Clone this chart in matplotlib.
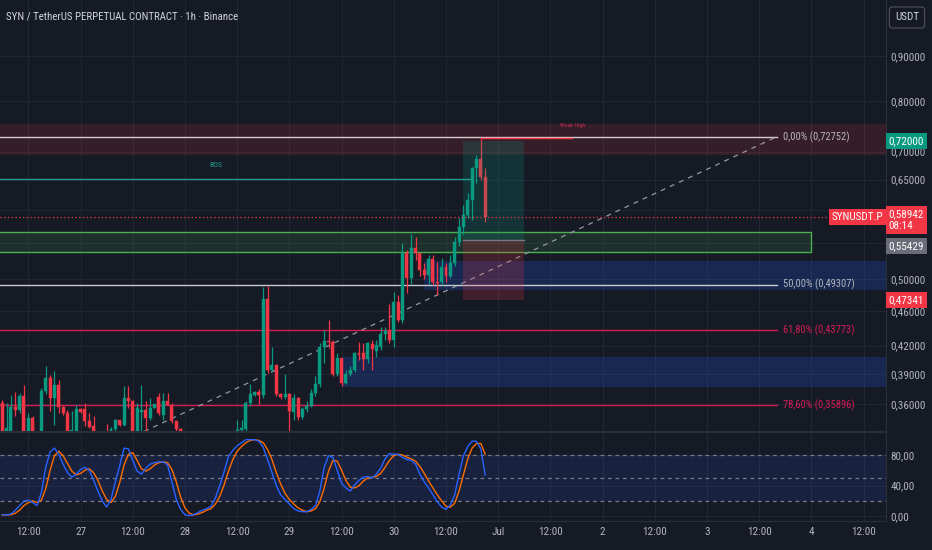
import matplotlib
matplotlib.use('Agg')
import matplotlib.pyplot as plt
from matplotlib import font_manager as fm
from matplotlib.patches import Rectangle
from matplotlib.ticker import FixedLocator, NullLocator, FuncFormatter
from matplotlib.transforms import blended_transform_factory

# ---------------- data ----------------
hours = list(range(6, 118))   # hours since 26 Jun 00:00

opens = [0.361, 0.335, 0.330, 0.3574, 0.3549, 0.368, 0.333, 0.3473, 0.330, 0.333,
         0.373, 0.3855, 0.3658, 0.3787, 0.3574, 0.3518, 0.334, 0.333, 0.3555, 0.3555,
         0.344, 0.3395, 0.334, 0.332, 0.335, 0.333, 0.3377, 0.3449, 0.341, 0.3658,
         0.3626, 0.334, 0.3524, 0.3542, 0.3473, 0.3564, 0.3673, 0.3497, 0.3635, 0.3595,
         0.344, 0.3377, 0.335, 0.322, 0.310, 0.314, 0.300, 0.308, 0.315, 0.312,
         0.322, 0.326, 0.330, 0.328, 0.334, 0.3363, 0.3372, 0.3616, 0.3686, 0.3718,
         0.3686, 0.4748, 0.3944, 0.3995, 0.3696, 0.3665, 0.3696, 0.3524, 0.3655, 0.348,
         0.3555, 0.3585, 0.3712, 0.3794, 0.418, 0.4252, 0.4241, 0.3894, 0.4065, 0.381,
         0.3894, 0.3934, 0.4117, 0.4117, 0.4054, 0.4217, 0.414, 0.4188, 0.433, 0.4363,
         0.4268, 0.4716, 0.449, 0.5365, 0.502, 0.543, 0.5357, 0.512, 0.5055, 0.5275,
         0.4966, 0.4966, 0.517, 0.5045, 0.522, 0.551, 0.5735, 0.593, 0.616, 0.6695, 0.687, 0.655]

highs = [0.364, 0.361, 0.369, 0.372, 0.3705, 0.3787, 0.3518, 0.3488, 0.335, 0.376,
         0.398, 0.389, 0.393, 0.3837, 0.3585, 0.3549, 0.3533, 0.3595, 0.3565, 0.361,
         0.3518, 0.3488, 0.3355, 0.335, 0.3419, 0.339, 0.346, 0.3449, 0.3777, 0.3777,
         0.364, 0.361, 0.3787, 0.3626, 0.3658, 0.3604, 0.371, 0.371, 0.3705, 0.361,
         0.344, 0.338, 0.3355, 0.326, 0.318, 0.320, 0.312, 0.318, 0.322, 0.325,
         0.330, 0.333, 0.335, 0.335, 0.3453, 0.3453, 0.3632, 0.3794, 0.373, 0.3745,
         0.490, 0.4917, 0.418, 0.4005, 0.371, 0.3894, 0.3712, 0.3696, 0.3665, 0.357,
         0.3632, 0.3745, 0.3877, 0.4224, 0.4376, 0.4498, 0.426, 0.4117, 0.4065, 0.3944,
         0.3978, 0.4134, 0.4241, 0.4224, 0.4241, 0.426, 0.426, 0.4412, 0.4412, 0.4686,
         0.484, 0.480, 0.550, 0.540, 0.5632, 0.559, 0.5365, 0.522, 0.5336, 0.5336,
         0.524, 0.529, 0.522, 0.5336, 0.559, 0.587, 0.608, 0.628, 0.672, 0.694, 0.7248, 0.6695]

lows = [0.320, 0.330, 0.325, 0.3488, 0.352, 0.328, 0.330, 0.330, 0.326, 0.330,
        0.370, 0.3533, 0.341, 0.3518, 0.350, 0.330, 0.330, 0.330, 0.352, 0.3395,
        0.338, 0.333, 0.328, 0.326, 0.330, 0.330, 0.335, 0.340, 0.340, 0.3564,
        0.330, 0.330, 0.333, 0.333, 0.3453, 0.356, 0.3503, 0.3453, 0.359, 0.3425,
        0.335, 0.333, 0.318, 0.305, 0.300, 0.296, 0.290, 0.302, 0.309, 0.308,
        0.316, 0.320, 0.324, 0.322, 0.330, 0.333, 0.335, 0.3585, 0.3675, 0.360,
        0.366, 0.391, 0.3927, 0.368, 0.365, 0.3648, 0.335, 0.3453, 0.3453, 0.346,
        0.3524, 0.357, 0.368, 0.377, 0.4012, 0.417, 0.3877, 0.388, 0.3777, 0.3794,
        0.3877, 0.392, 0.4046, 0.3944, 0.4012, 0.394, 0.408, 0.415, 0.426, 0.4224,
        0.4188, 0.447, 0.4452, 0.482, 0.4945, 0.526, 0.504, 0.501, 0.4945, 0.4925,
        0.480, 0.4925, 0.4966, 0.502, 0.518, 0.546, 0.562, 0.588, 0.5845, 0.645, 0.650, 0.582]

closes = [0.330, 0.338, 0.3574, 0.3549, 0.368, 0.333, 0.3473, 0.333, 0.334, 0.373,
          0.3855, 0.3658, 0.3787, 0.3574, 0.3518, 0.333, 0.336, 0.3555, 0.3524, 0.344,
          0.339, 0.335, 0.332, 0.333, 0.333, 0.3377, 0.3449, 0.341, 0.3658, 0.3635,
          0.334, 0.3564, 0.3542, 0.3473, 0.3564, 0.3604, 0.3518, 0.3635, 0.3595, 0.344,
          0.3372, 0.335, 0.322, 0.310, 0.314, 0.300, 0.308, 0.315, 0.312, 0.322,
          0.326, 0.330, 0.328, 0.333, 0.3365, 0.338, 0.3616, 0.3696, 0.3718, 0.3686,
          0.4748, 0.3944, 0.3995, 0.3696, 0.3665, 0.3696, 0.354, 0.3655, 0.348, 0.3555,
          0.3585, 0.3712, 0.3794, 0.418, 0.4252, 0.4241, 0.3894, 0.4065, 0.381, 0.3894,
          0.3944, 0.4117, 0.410, 0.4054, 0.4224, 0.416, 0.4205, 0.433, 0.4363, 0.4268,
          0.4716, 0.449, 0.5365, 0.502, 0.543, 0.5357, 0.512, 0.5055, 0.5275, 0.4966,
          0.495, 0.517, 0.5045, 0.522, 0.551, 0.5735, 0.593, 0.616, 0.6695, 0.687, 0.655, 0.58942]

stoch_k = [2, 2, 3, 8, 14, 20, 21, 18, 14, 31,
           64, 84, 89, 81, 68, 57, 51, 55, 61, 64,
           60, 47, 33, 20, 12, 22, 45, 66, 89, 88,
           73, 59, 55, 63, 68, 70, 71, 71, 67, 45,
           22, 9, 2, 1, 2, 5, 8, 10, 13, 24,
           40, 58, 78, 86, 92, 96, 100, 100, 100, 98,
           90, 74, 57, 40, 28, 22, 16, 10, 7, 6,
           6, 9, 14, 33, 64, 79, 77, 60, 43, 37,
           33, 41, 47, 51, 52, 50, 55, 63, 75, 82,
           81, 81, 77, 74, 73, 68, 55, 45, 37, 28,
           19, 12, 9, 15, 28, 55, 79, 91, 98, 98, 88, 54]

stoch_d = [2, 2, 2, 4, 8, 14, 18, 20, 18, 21,
           36, 60, 79, 85, 79, 69, 59, 54, 56, 60,
           62, 57, 47, 33, 22, 18, 26, 44, 67, 81,
           83, 73, 62, 59, 62, 67, 70, 71, 70, 61,
           45, 25, 11, 4, 2, 3, 5, 8, 10, 16,
           26, 41, 59, 74, 85, 91, 96, 99, 100, 99,
           96, 87, 74, 57, 42, 30, 22, 16, 11, 8,
           6, 7, 10, 19, 37, 59, 73, 72, 60, 47,
           38, 37, 40, 46, 50, 51, 52, 56, 64, 73,
           79, 81, 80, 77, 75, 72, 65, 56, 46, 37,
           28, 20, 13, 12, 17, 33, 54, 75, 89, 95, 95, 81]

time_ticks = [12, 24, 36, 48, 60, 72, 84, 96, 108, 120, 132, 144, 156, 168, 180, 192, 204]
time_labels = ['12:00', '27', '12:00', '28', '12:00', '29', '12:00', '30', '12:00',
               'Jul', '12:00', '2', '12:00', '3', '12:00', '4', '12:00']
price_ticks = [0.36, 0.39, 0.42, 0.46, 0.50, 0.55, 0.60, 0.65, 0.70, 0.80, 0.90]
stoch_ticks = [0, 40, 80]

fib_labels = ['0,00% (0,72752)', '50,00% (0,49307)', '61,80% (0,43773)', '78,60% (0,35896)']
fib_prices = [0.72752, 0.49307, 0.43773, 0.35896]
fib_anchor_t = [-10, 184]
fib_anchor_p = [0.25862, 0.72752]

red_zone = (0.6936, 0.7526)
green_zone = (0.5378, 0.5664, 192)          # low, high, end hour
blue_zones = [(0.486, 0.5247, 103), (0.3767, 0.4076, 84)]   # low, high, start hour
bos_price, bos_end = 0.651, 114
weak_high, weak_start, weak_end = 0.7248, 116, 137
pos_start, pos_end = 112, 126
entry, target, stop = 0.55429, 0.72000, 0.47341
last_price = 0.58942

# ---------------- fonts ----------------
def available(fam):
    try:
        fm.findfont(fm.FontProperties(family=fam), fallback_to_default=False)
        return True
    except Exception:
        return False

FONT, FS = 'Roboto', 7.5
for cand, size in [('Liberation Sans Narrow', 8.5), ('Roboto Condensed', 8.0)]:
    if available(cand):
        FONT, FS = cand, size
        break
plt.rcParams['font.family'] = [FONT, 'DejaVu Sans']

# ---------------- style ----------------
BG = '#161a25'
GRID = '#222633'
TXT = '#b2b5be'
UP = '#089981'
DN = '#f23645'
CRIMSON = '#d41d55'

W, H = 932, 550
fig = plt.figure(figsize=(W / 100, H / 100), dpi=100, facecolor=BG)
XR = 886
ax = fig.add_axes([0, 1 - 431 / H, XR / W, 431 / H], facecolor=BG)
ax2 = fig.add_axes([0, (H - 521) / H, XR / W, (521 - 432) / H], facecolor=BG, sharex=ax)

xmin, xmax = 5.49, 209.13
ax.set_xlim(xmin, xmax)
ax.set_yscale('log')
ax.set_ylim(0.3355, 1.0429)

ax.yaxis.set_major_locator(FixedLocator(price_ticks))
ax.yaxis.set_minor_locator(NullLocator())
ax.yaxis.set_major_formatter(FuncFormatter(lambda v, p: f"{v:.5f}".replace('.', ',')))
ax.set_xticks(time_ticks)
ax.grid(True, color=GRID, lw=0.8, zorder=0)
ax.set_axisbelow(True)
ax.yaxis.tick_right()
ax.tick_params(axis='y', length=0, pad=3, labelsize=FS, labelcolor=TXT)
ax.tick_params(axis='x', length=0, labelbottom=False)
for s in ['top', 'left']:
    ax.spines[s].set_visible(False)
for s in ['right', 'bottom']:
    ax.spines[s].set_color('#2a2e39')

# zones
ax.add_patch(Rectangle((xmin - 5, red_zone[0]), 300, red_zone[1] - red_zone[0],
                       fc=DN, alpha=0.15, lw=0, zorder=1))
ax.add_patch(Rectangle((xmin - 5, green_zone[0]), green_zone[2] - xmin + 5, green_zone[1] - green_zone[0],
                       fc='#4caf50', alpha=0.15, lw=0, zorder=1))
ax.add_patch(Rectangle((xmin - 5, green_zone[0]), green_zone[2] - xmin + 5, green_zone[1] - green_zone[0],
                       fill=False, ec='#4caf50', lw=1.0, zorder=1.2))
for lo, hi, st in blue_zones:
    ax.add_patch(Rectangle((st, lo), 300, hi - lo, fc='#2962ff', alpha=0.2, lw=0, zorder=1))

# fib lines
fib_line_colors = ['#d8c9d0', '#c8cad0', CRIMSON, CRIMSON]
fib_text_colors = ['#b2b5be', '#b2b5be', CRIMSON, CRIMSON]
for p, lab, lc, tc in zip(fib_prices, fib_labels, fib_line_colors, fib_text_colors):
    ax.plot([xmin - 5, fib_anchor_t[1]], [p, p], color=lc, lw=1.0, zorder=2)
    ax.text(fib_anchor_t[1] + 1.5, p, lab, color=tc, fontsize=FS - 0.4, va='center', ha='left', zorder=6)
ax.plot(fib_anchor_t, fib_anchor_p, color='#9598a1', lw=0.9, ls=(0, (4, 4)), zorder=2)

# BOS
ax.plot([xmin - 5, bos_end], [bos_price, bos_price], color='#1f9e8c', lw=1.0, zorder=2)
ax.text(55, 0.6755, 'BOS', color='#1f9e8c', fontsize=5.5, ha='center', va='center', zorder=6)

# candles
colors = [UP if c >= o else DN for o, c in zip(opens, closes)]
ax.vlines(hours, lows, highs, colors=colors, lw=0.9, zorder=3)
bottoms = [min(o, c) for o, c in zip(opens, closes)]
heights = [max(abs(c - o), 0.0004) for o, c in zip(opens, closes)]
ax.bar(hours, heights, bottom=bottoms, width=0.68, color=colors, edgecolor=colors,
       linewidth=0.3, zorder=3.5)

# position tool
ax.add_patch(Rectangle((pos_start, entry), pos_end - pos_start, target - entry,
                       fc=UP, alpha=0.2, lw=0, zorder=4))
ax.add_patch(Rectangle((pos_start, stop), pos_end - pos_start, entry - stop,
                       fc=DN, alpha=0.2, lw=0, zorder=4))
ax.plot([pos_start, pos_end], [entry, entry], color='#787b86', lw=1.0, zorder=4.2)

# weak high
ax.plot([weak_start, weak_end], [weak_high, weak_high], color=DN, lw=1.0, zorder=4.5)
ax.text(weak_end, 0.7486, 'Weak High', color='#c02a50', fontsize=4.3, ha='center', va='center', zorder=6)

# last price line
ax.axhline(last_price, color=DN, lw=0.9, ls=(0, (1, 2)), zorder=4.6)

# right-side price tags
tr = blended_transform_factory(fig.transFigure, ax.transData)
xt = 888.5 / W
box = dict(boxstyle='square,pad=0.25', ec='none')
ax.text(xt, target, '0,72000', transform=tr, color='white', fontsize=FS, va='center', ha='left',
        clip_on=False, zorder=10, bbox=dict(box, fc=UP))
ax.annotate('0,58942\n08:14', xy=(xt, last_price), xycoords=tr, xytext=(0, 5.5), textcoords='offset points',
            color='white', fontsize=FS, va='top', ha='left', linespacing=1.2, annotation_clip=False,
            zorder=10, bbox=dict(box, fc=DN))
ax.annotate('0,55429', xy=(xt, entry), xycoords=tr, xytext=(0, -4), textcoords='offset points',
            color='white', fontsize=FS, va='center', ha='left', annotation_clip=False,
            zorder=10, bbox=dict(box, fc='#6a6d78'))
ax.text(xt, stop, '0,47341', transform=tr, color='white', fontsize=FS, va='center', ha='left',
        clip_on=False, zorder=10, bbox=dict(box, fc=DN))
ax.text(883 / W, last_price, 'SYNUSDT.P', transform=tr, color='white', fontsize=FS, va='center',
        ha='right', clip_on=False, zorder=10, bbox=dict(box, fc=DN))

# title & currency
fig.text(6 / W, 1 - 16 / H, 'SYN / TetherUS PERPETUAL CONTRACT · 1h · Binance', color='#d1d4dc',
         fontsize=FS - 0.2, va='center', ha='left')
fig.text(907 / W, 1 - 17.5 / H, 'USDT', color='#d1d4dc', fontsize=FS, va='center', ha='center',
         bbox=dict(boxstyle='round,pad=0.5,rounding_size=0.3', fc=BG, ec='#50535e', lw=0.8))

# ---------------- stochastic pane ----------------
ax2.set_ylim(-6.1, 110)
ax2.axhspan(20, 80, color='#2962ff', alpha=0.12, lw=0, zorder=1)
for lvl in [80, 50, 20]:
    ax2.axhline(lvl, color='#787b86', lw=0.9, ls=(0, (3, 3)), zorder=2)
ax2.plot(hours, stoch_d, color='#ff6d00', lw=1.0, zorder=3)
ax2.plot(hours, stoch_k, color='#2962ff', lw=1.0, zorder=3.5)
ax2.yaxis.set_major_locator(FixedLocator(stoch_ticks))
ax2.yaxis.set_major_formatter(FuncFormatter(lambda v, p: f"{v:.2f}".replace('.', ',')))
ax2.set_xticks(time_ticks)
ax2.set_xticklabels(time_labels)
ax2.grid(True, color=GRID, lw=0.8, zorder=0)
ax2.set_axisbelow(True)
ax2.yaxis.tick_right()
ax2.tick_params(axis='y', length=0, pad=3, labelsize=FS, labelcolor=TXT)
ax2.tick_params(axis='x', length=0, pad=4, labelsize=FS, labelcolor=TXT)
ax2.spines['left'].set_visible(False)
for s in ['top', 'right', 'bottom']:
    ax2.spines[s].set_color('#2a2e39')

fig.savefig('out.png', dpi=100, facecolor=BG)
